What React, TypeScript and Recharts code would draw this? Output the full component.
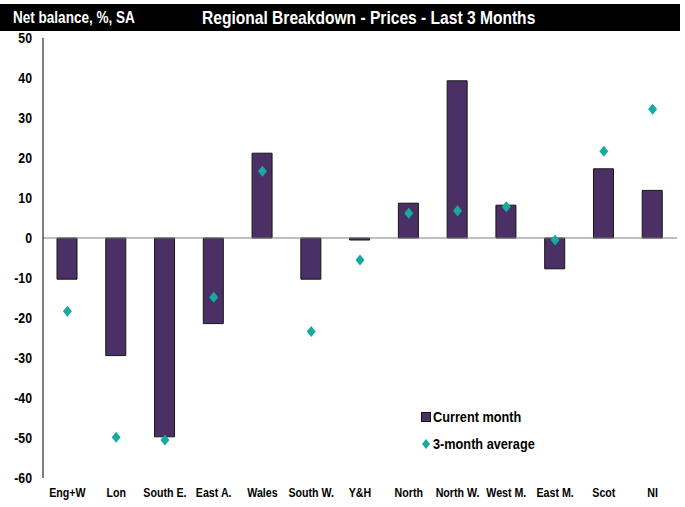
import React from 'react';
import { ComposedChart, Bar, Line, XAxis, YAxis, ReferenceLine } from 'recharts';

const categories = ['Eng+W', 'Lon', 'South E.', 'East A.', 'Wales', 'South W.', 'Y&H', 'North', 'North W.', 'West M.', 'East M.', 'Scot', 'NI'];
const currentMonth = [-10.3, -29.4, -49.7, -21.4, 21.2, -10.3, -0.5, 8.7, 39.3, 8.2, -7.7, 17.3, 11.9];
const threeMonthAvg = [-18.3, -49.8, -50.5, -14.8, 16.7, -23.4, -5.5, 6.2, 6.8, 7.8, -0.5, 21.7, 32.2];
const yTicks = [-60, -50, -40, -30, -20, -10, 0, 10, 20, 30, 40, 50];

const data = categories.map((c, i) => ({ name: c, current: currentMonth[i], avg: threeMonthAvg[i] }));

const FONT = '"Liberation Sans", Arial, sans-serif';
const SQ = 0.82;
const BAR = '#4B3066';
const TEAL = '#17AAA0';

const Diamond = (props: any) => {
  const { cx, cy } = props;
  if (cx == null || cy == null) return null;
  return <polygon key={`d-${cx}`} points={`${cx},${cy - 5.5} ${cx + 4.5},${cy} ${cx},${cy + 5.5} ${cx - 4.5},${cy}`} fill={TEAL} />;
};

const XTick = (props: any) => {
  const { x, y, payload } = props;
  return (
    <text transform={`translate(${x},${y}) scale(${SQ},1)`} textAnchor="middle" dy={13}
      fontFamily={FONT} fontWeight="bold" fontSize={13} fill="#000">
      {payload.value}
    </text>
  );
};

const YTick = (props: any) => {
  const { x, y, payload } = props;
  return (
    <text transform={`translate(${x},${y}) scale(${SQ},1)`} textAnchor="end" dy={5}
      fontFamily={FONT} fontWeight="bold" fontSize={15} fill="#000">
      {payload.value}
    </text>
  );
};

const sq: React.CSSProperties = { display: 'inline-block', transform: `scaleX(${SQ})`, transformOrigin: 'left center', whiteSpace: 'nowrap' };

export default function App() {
  return (
    <div style={{ position: 'absolute', left: 0, top: 0, width: 685, height: 507, background: '#fff' }}>
      <div
        style={{
          position: 'absolute', left: 0, top: 4, width: 680, height: 27, background: '#000',
          color: '#fff', fontFamily: FONT, fontWeight: 'bold', lineHeight: '27px', zIndex: 2,
        }}
      >
        <span style={{ ...sq, position: 'absolute', left: 13, fontSize: 16.5 }}>Net balance, %, SA</span>
        <span style={{ ...sq, position: 'absolute', left: 202, fontSize: 19 }}>Regional Breakdown - Prices - Last 3 Months</span>
      </div>
      <ComposedChart
        width={685}
        height={507}
        data={data}
        margin={{ top: 38, right: 8, bottom: 0, left: 0 }}
        barCategoryGap={0}
      >
        <XAxis
          dataKey="name"
          axisLine={false}
          tickLine={false}
          height={29}
          interval={0}
          tickMargin={0}
          tick={<XTick />}
        />
        <YAxis
          domain={[-60, 50]}
          ticks={yTicks}
          interval={0}
          width={43}
          axisLine={{ stroke: '#000', strokeWidth: 1 }}
          tickLine={false}
          tickMargin={5}
          tick={<YTick />}
        />
        <ReferenceLine y={0} stroke="#808080" strokeWidth={1.2} />
        <Bar dataKey="current" name="Current month" barSize={20} fill={BAR} stroke="#151515" strokeWidth={1} isAnimationActive={false} />
        <Line
          dataKey="avg"
          name="3-month average"
          stroke="none"
          dot={<Diamond />}
          activeDot={false}
          isAnimationActive={false}
        />
      </ComposedChart>
      <div style={{ position: 'absolute', left: 421, top: 403, fontFamily: FONT, fontWeight: 'bold', fontSize: 15.5, color: '#000' }}>
        <div style={{ display: 'flex', alignItems: 'center', height: 27 }}>
          <svg width={10} height={10} style={{ marginRight: 2 }}>
            <rect x={0.5} y={0.5} width={9} height={9} fill={BAR} stroke="#111" />
          </svg>
          <span style={sq}>Current month</span>
        </div>
        <div style={{ display: 'flex', alignItems: 'center', height: 27 }}>
          <svg width={10} height={10} style={{ marginRight: 2 }}>
            <polygon points="5,0 9,5 5,10 1,5" fill={TEAL} />
          </svg>
          <span style={sq}>3-month average</span>
        </div>
      </div>
    </div>
  );
}
